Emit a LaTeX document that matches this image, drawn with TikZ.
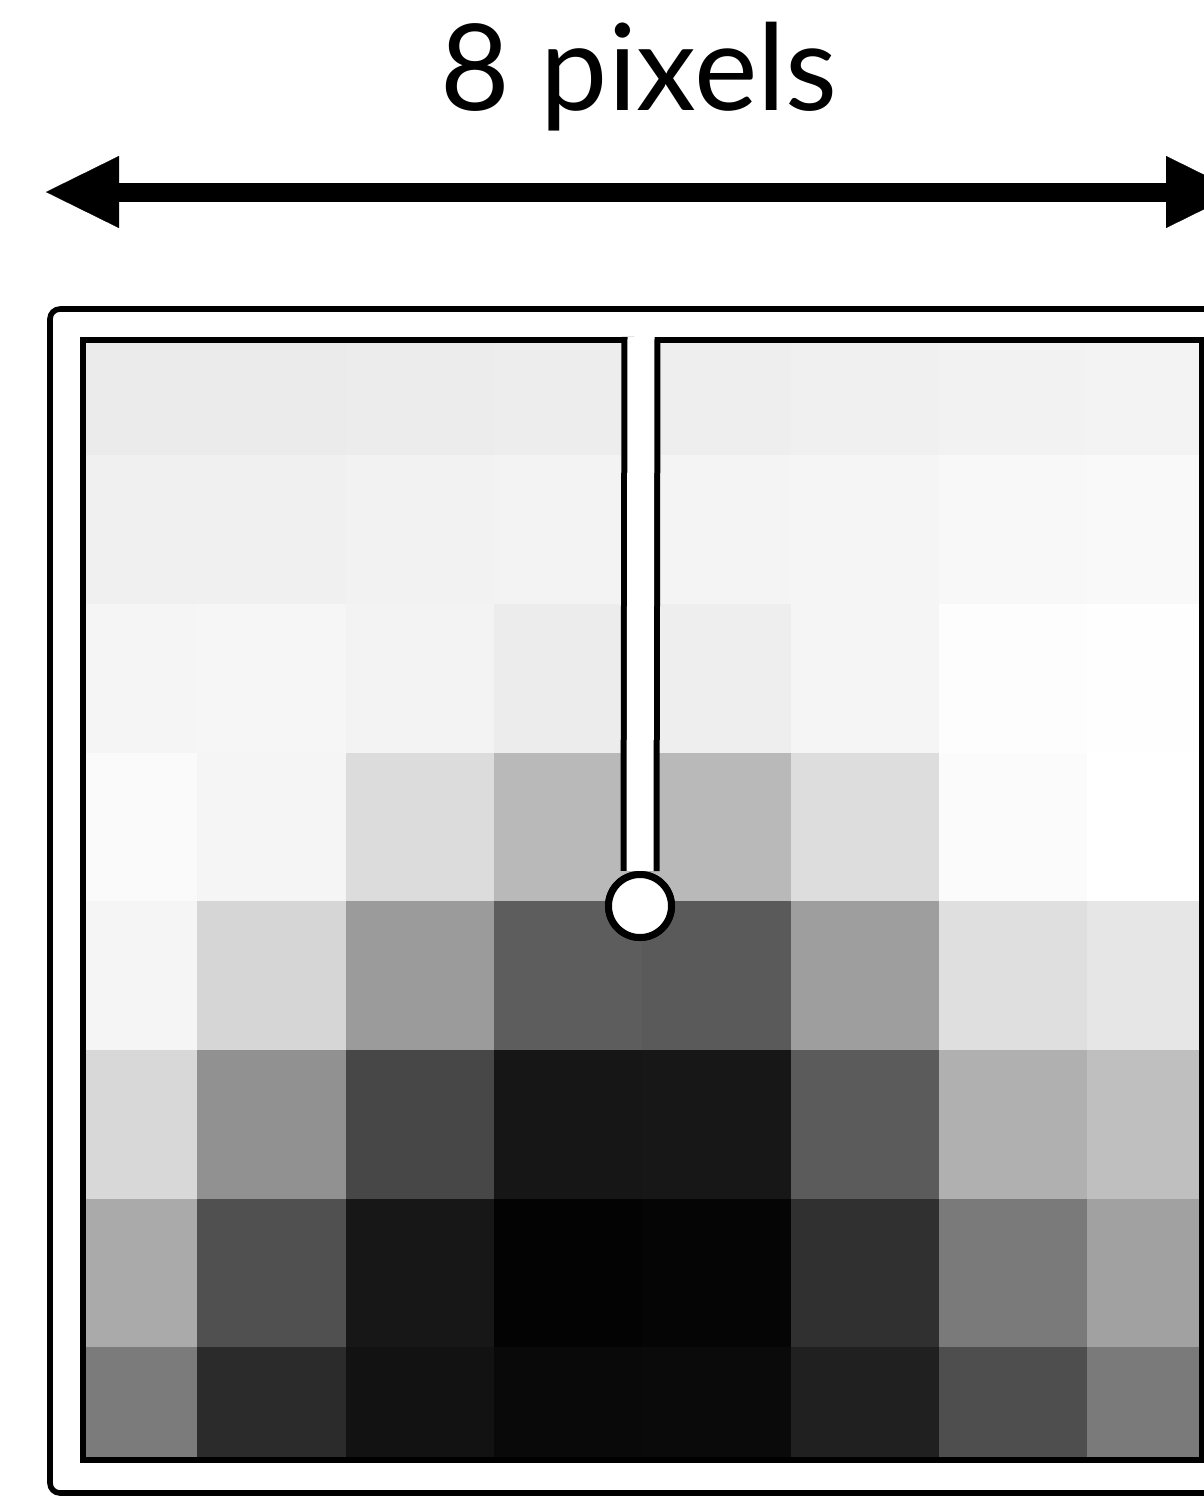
\documentclass[tikz,border=0pt]{standalone}
\usepackage{fontspec}
\setmainfont{Lato}
\usetikzlibrary{arrows.meta}

\tikzset{
  dimarrow/.style={line width=9.5pt,
    {Triangle[length=36.5pt,width=36pt,line width=0.1pt]}-{Triangle[length=36.5pt,width=36pt,line width=0.1pt]}},
  frameline/.style={draw=black, line width=2.8pt},
  probe/.style={circle, draw=black, line width=3.5pt, fill=white, inner sep=0pt, minimum size=31.5pt},
  stem/.style={line width=3pt, double=white, double distance=13.5pt, line cap=butt},
  caption/.style={font=\fontsize{60}{72}\selectfont, anchor=base, inner sep=0pt}
}

\begin{document}
\begin{tikzpicture}[x=0.5pt, y=-0.5pt]
  \useasboundingbox (0,0) rectangle (1204,1496);
  \clip (0,0) rectangle (1204,1496);
  \fill[white] (0,0) rectangle (1204,1496);

  % width label and dimension arrow
  \node[caption] (label) at (639,110) {8 pixels};
  \coordinate (arrL) at (46,192);
  \coordinate (arrR) at (1239,192);
  \draw[dimarrow] (arrL) -- (arrR);

  % outer frame
  \draw[frameline, fill=white, rounded corners=5pt] (50,309) rectangle (1250,1493);

  % pixel grid, clipped to the inner frame
  \begin{scope}
    \clip (83,340) rectangle (1202,1460);
    \foreach [count=\r from 0] \vals in {
        {EB,EB,EC,ED,EE,F0,F2,F3},
        {F0,F0,F2,F3,F4,F5,F8,F9},
        {F5,F6,F3,EC,EE,F5,FD,FE},
        {FA,F5,DC,B9,B9,DD,FB,FF},
        {F5,D6,9B,5D,5A,9E,DF,E6},
        {D8,91,47,16,17,5B,B0,BF},
        {AA,50,17,03,05,30,7A,A1},
        {7B,2B,12,09,0A,20,4E,7A}} {
      \foreach [count=\c from 0] \v in \vals {
        \definecolor{cellcol}{HTML}{\v\v\v}
        \fill[cellcol] ({49+148.3*\c},{306.5+148.7*\r}) rectangle ({49+148.3*(\c+1)},{306.5+148.7*(\r+1)});
      }
    }
  \end{scope}

  % inner frame
  \draw[frameline] (83,340) rectangle (1202,1460);

  % sampling probe
  \node[probe] (tip) at (640,906) {};
  \coordinate (stemtop) at (641,337);
  \draw[stem] (stemtop) -- (tip.north);
  \node[probe] at (tip.center) {};
\end{tikzpicture}
\end{document}
